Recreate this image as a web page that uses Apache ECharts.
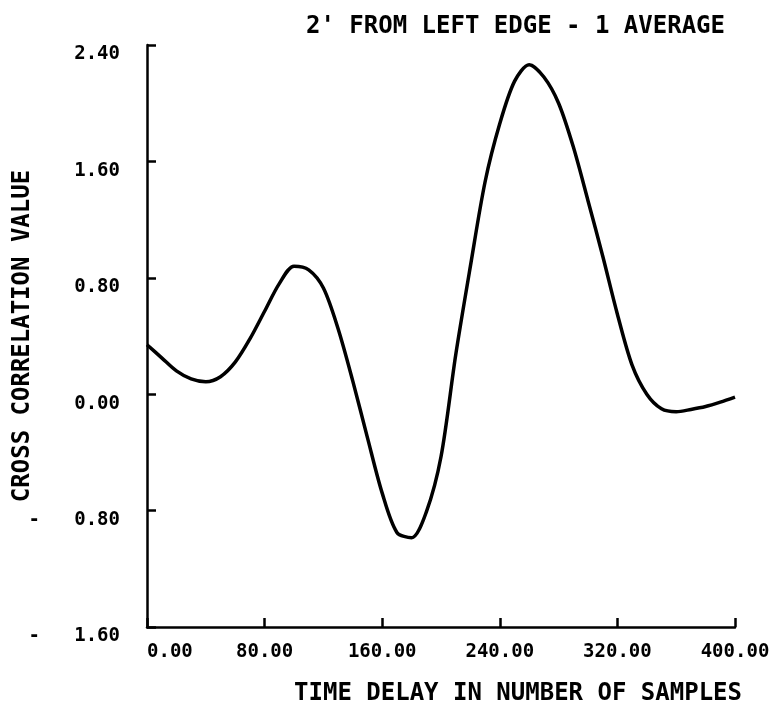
<!DOCTYPE html>
<html>
<head>
<meta charset="utf-8">
<script src="https://cdn.jsdelivr.net/npm/echarts@6/dist/echarts.min.js"></script>
<style>
  html, body { margin: 0; padding: 0; background: #fff; }
  #chart { width: 783px; height: 704px; }
</style>
</head>
<body>
<div id="chart"></div>
<script>
// time delay (samples)
const delays = [0, 10, 20, 30, 40, 50, 60, 70, 80, 90, 100, 110, 120, 130, 140, 150, 160, 170, 180,
  190, 200, 210, 220, 230, 240, 250, 260, 270, 280, 290, 300, 310, 320, 330, 340, 350, 360, 370, 380, 390, 400]
// cross correlation value
const corr = [0.34, 0.25, 0.16, 0.105, 0.085, 0.12, 0.22, 0.38, 0.57, 0.76, 0.88, 0.855, 0.73, 0.45, 0.09,
  -0.3, -0.68, -0.95, -0.986, -0.81, -0.43, 0.27, 0.88, 1.46, 1.86, 2.15, 2.265, 2.18, 2.0, 1.7, 1.33, 0.95,
  0.55, 0.2, 0.0, -0.1, -0.12, -0.105, -0.085, -0.055, -0.02]

const xTicks = [0, 80, 160, 240, 320, 400]
const yTicks = [-1.6, -0.8, 0, 0.8, 1.6, 2.4]

const font = 'DejaVu Sans Mono'

const chart = echarts.init(document.getElementById('chart'))
const option = {
  animation: false,
  backgroundColor: '#fff',
  title: [
    {
      text: "2' FROM LEFT EDGE - 1 AVERAGE",
      right: 53,
      top: 10,
      textStyle: { fontFamily: font, fontWeight: 'bold', fontSize: 24, color: '#000' }
    },
    {
      text: 'TIME DELAY IN NUMBER OF SAMPLES',
      right: 36,
      top: 677,
      textStyle: { fontFamily: font, fontWeight: 'bold', fontSize: 24, color: '#000' }
    }
  ],
  grid: {
    left: 147,
    right: 48,
    top: 45,
    bottom: 77,
    containLabel: false,
    outerBoundsMode: 'none'
  },
  xAxis: {
    type: 'value',
    min: xTicks[0],
    max: xTicks[xTicks.length - 1],
    interval: 80,
    axisLine: { onZero: false, lineStyle: { color: '#000', width: 2.5 } },
    axisTick: { inside: true, length: 9, lineStyle: { color: '#000', width: 2.5 } },
    splitLine: { show: false },
    axisLabel: {
      margin: 16,
      alignMinLabel: 'left',
      fontFamily: font,
      fontWeight: 'bold',
      fontSize: 19,
      color: '#000',
      formatter: v => v.toFixed(2)
    }
  },
  yAxis: {
    type: 'value',
    min: yTicks[0],
    max: yTicks[yTicks.length - 1],
    interval: 0.8,
    name: 'CROSS CORRELATION VALUE',
    nameLocation: 'middle',
    nameRotate: 90,
    nameGap: 112,
    nameMoveOverlap: false,
    nameTextStyle: { fontFamily: font, fontWeight: 'bold', fontSize: 24, color: '#000' },
    axisLine: { lineStyle: { color: '#000', width: 2.5 } },
    axisTick: { inside: true, length: 9, lineStyle: { color: '#000', width: 2.5 } },
    splitLine: { show: false },
    axisLabel: {
      margin: 27,
      verticalAlign: 'top',
      fontFamily: font,
      fontWeight: 'bold',
      fontSize: 19,
      color: '#000',
      formatter: v => (v < 0 ? '-   ' + Math.abs(v).toFixed(2) : v.toFixed(2))
    }
  },
  series: [
    {
      type: 'line',
      data: delays.map((d, i) => [d, corr[i]]),
      smooth: 0.3,
      showSymbol: false,
      lineStyle: { color: '#000', width: 3.5 }
    }
  ]
}
chart.setOption(option)
window.addEventListener('resize', () => chart.resize())
</script>
</body>
</html>
